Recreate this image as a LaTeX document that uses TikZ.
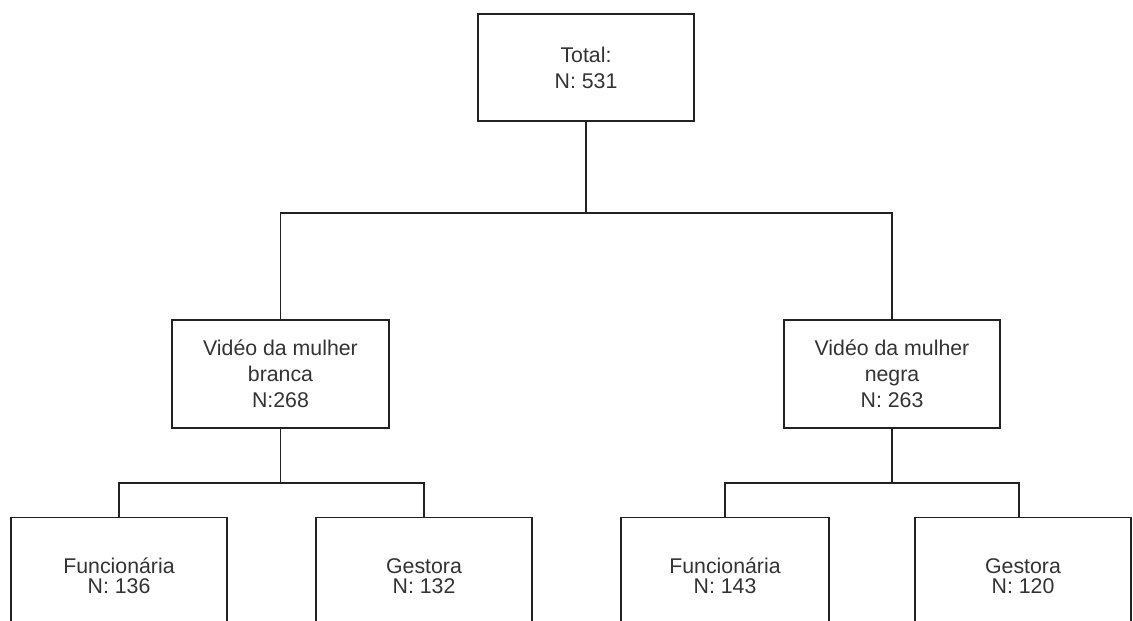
\documentclass[tikz,border=0pt]{standalone}
\usepackage{fontspec}
\setmainfont{Liberation Sans}
\definecolor{linec}{HTML}{222222}
\definecolor{textc}{HTML}{333333}
\tikzset{
  box/.style={draw=linec, line width=1.6pt, fill=white, rectangle, inner sep=0pt,
    align=center, text=textc, font=\fontsize{21.3}{26}\selectfont},
  botbox/.style={box, font=\fontsize{21.3}{20.5}\selectfont},
  conn/.style={draw=linec, line width=1.6pt}
}
\begin{document}
\begin{tikzpicture}[x=1pt,y=-1pt]
\useasboundingbox (0,0) rectangle (1133,621);
\fill[white] (0,0) rectangle (1133,621);
\clip (0,0) rectangle (1133,621);
\node[box, minimum width=216pt, minimum height=107pt] (top) at (586,67.5) {Total:\\N: 531};
\node[box, minimum width=217pt, minimum height=108pt] (midL) at (280.5,374) {Vidéo da mulher\\branca\\N:268};
\node[box, minimum width=216pt, minimum height=108pt] (midR) at (892,374) {Vidéo da mulher\\negra\\N: 263};
\node[botbox, minimum width=216pt, minimum height=117pt] (botLF) at (119,576) {Funcionária\\N: 136};
\node[botbox, minimum width=216pt, minimum height=117pt] (botLG) at (424,576) {Gestora\\N: 132};
\node[botbox, minimum width=208pt, minimum height=117pt] (botRF) at (725,576) {Funcionária\\N: 143};
\node[botbox, minimum width=216pt, minimum height=117pt] (botRG) at (1023,576) {Gestora\\N: 120};
\draw[conn] (top.south) -- ++(0,91) coordinate (j0);
\draw[conn] (midL.north) |- (j0) -| (midR.north);
\draw[conn] (midL.south) -- ++(0,54) coordinate (j1);
\draw[conn] (botLF.north) |- (j1) -| (botLG.north);
\draw[conn] (midR.south) -- ++(0,54) coordinate (j2);
\draw[conn] (botRF.north) |- (j2) -| ([xshift=-4pt]botRG.north);
\end{tikzpicture}
\end{document}
